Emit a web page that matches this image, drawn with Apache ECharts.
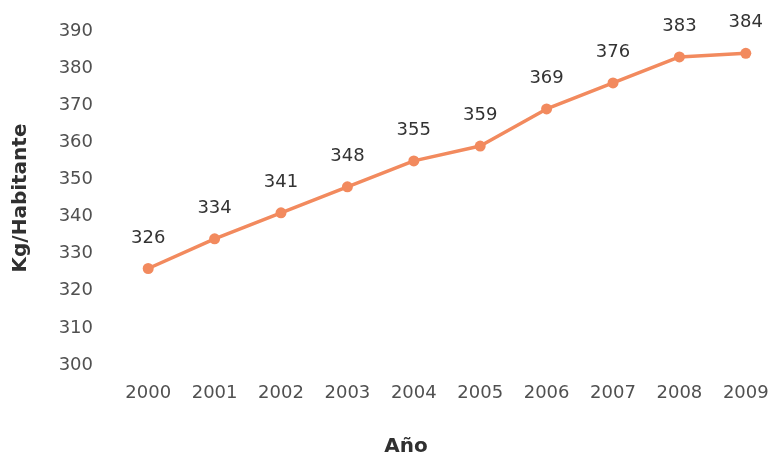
<!DOCTYPE html>
<html><head><meta charset="utf-8">
<script src="https://cdn.jsdelivr.net/npm/echarts@6/dist/echarts.min.js"></script>
<style>html,body{margin:0;padding:0;background:#fff}#c{width:771px;height:458px}</style>
</head><body><div id="c"></div>
<script>
const years = ['2000','2001','2002','2003','2004','2005','2006','2007','2008','2009'];
const kgPerHab = [326,334,341,348,355,359,369,376,383,384];
const yMin = 300, yMax = 390, yStep = 10;
const chart = echarts.init(document.getElementById('c'));
const font = 'DejaVu Sans';
chart.setOption({
  animation:false,
  grid:{left:115,width:664,top:31,bottom:93,outerBoundsMode:'none'},
  xAxis:{type:'category',data:years,boundaryGap:true,
    axisLine:{show:false},axisTick:{show:false},
    axisLabel:{color:'#505050',fontSize:18,fontFamily:font,margin:19},
    name:'Año',nameLocation:'middle',nameGap:72,
    nameTextStyle:{fontWeight:'bold',fontSize:20,color:'#303030',fontFamily:font,padding:[0,82,0,0]}},
  yAxis:{type:'value',min:yMin,max:yMax,interval:yStep,
    axisLine:{show:false},axisTick:{show:false},splitLine:{show:false},
    axisLabel:{color:'#505050',fontSize:18,fontFamily:font,margin:22},
    name:'Kg/Habitante',nameLocation:'middle',nameGap:84,
    nameTextStyle:{fontWeight:'bold',fontSize:20,color:'#303030',fontFamily:font}},
  series:[{type:'line',data:kgPerHab,symbol:'circle',symbolSize:11,
    lineStyle:{color:'#F28A5E',width:3.5},itemStyle:{color:'#F28A5E'},
    label:{show:true,position:'top',distance:16,color:'#333',fontSize:18,fontFamily:font}}]
});
</script></body></html>
